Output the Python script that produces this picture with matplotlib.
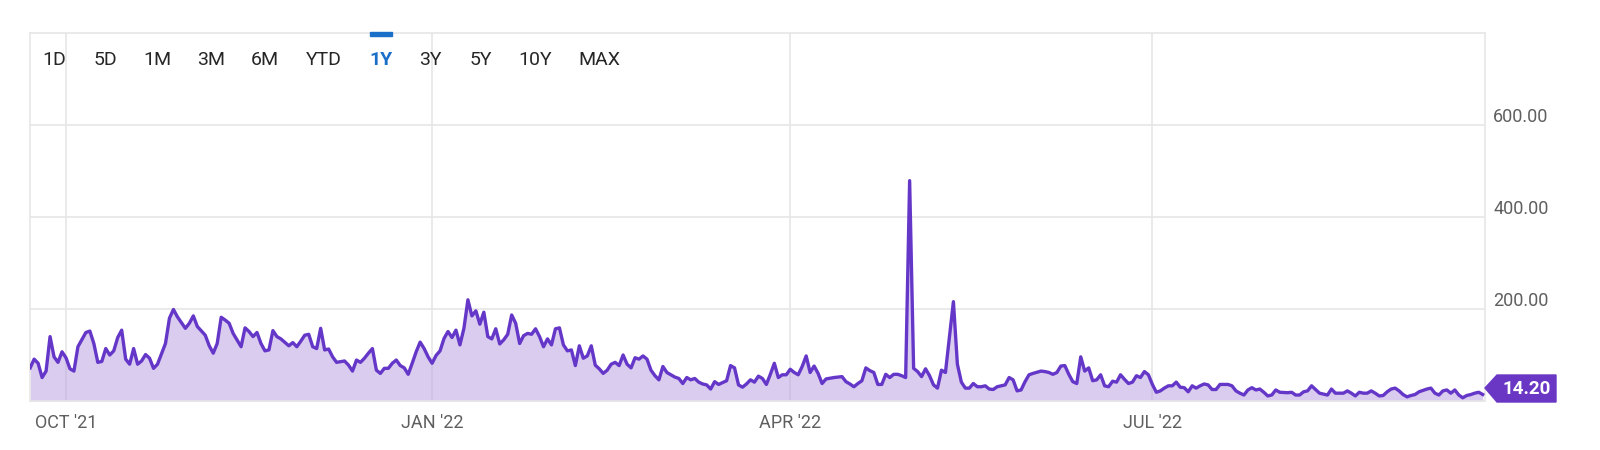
import matplotlib
matplotlib.use("Agg")
import matplotlib.pyplot as plt
from matplotlib.patches import Polygon, Rectangle
from matplotlib.transforms import ScaledTranslation
import pandas as pd

dates = [
    "2021-09-22", "2021-09-23", "2021-09-24", "2021-09-25", "2021-09-26", "2021-09-27", "2021-09-28", "2021-09-29", "2021-09-30",
    "2021-10-01", "2021-10-02", "2021-10-03", "2021-10-04", "2021-10-06", "2021-10-07", "2021-10-08", "2021-10-09", "2021-10-10",
    "2021-10-11", "2021-10-12", "2021-10-13", "2021-10-14", "2021-10-15", "2021-10-16", "2021-10-17", "2021-10-18", "2021-10-19",
    "2021-10-20", "2021-10-21", "2021-10-22", "2021-10-23", "2021-10-24", "2021-10-26", "2021-10-27", "2021-10-28", "2021-10-29",
    "2021-10-31",
    "2021-11-01", "2021-11-02", "2021-11-03", "2021-11-05", "2021-11-06", "2021-11-07", "2021-11-08", "2021-11-09", "2021-11-10",
    "2021-11-11", "2021-11-12", "2021-11-14", "2021-11-15", "2021-11-16", "2021-11-17", "2021-11-18", "2021-11-19", "2021-11-20",
    "2021-11-21", "2021-11-22", "2021-11-23", "2021-11-24", "2021-11-26", "2021-11-27", "2021-11-28", "2021-11-29", "2021-11-30",
    "2021-12-01", "2021-12-02", "2021-12-03", "2021-12-04", "2021-12-05", "2021-12-06", "2021-12-07", "2021-12-08", "2021-12-10",
    "2021-12-11", "2021-12-12", "2021-12-13", "2021-12-14", "2021-12-15", "2021-12-16", "2021-12-17", "2021-12-18", "2021-12-19",
    "2021-12-20", "2021-12-21", "2021-12-22", "2021-12-23", "2021-12-24", "2021-12-25", "2021-12-26", "2021-12-27", "2021-12-28",
    "2021-12-29", "2021-12-30", "2021-12-31",
    "2022-01-01", "2022-01-02", "2022-01-03", "2022-01-04", "2022-01-05", "2022-01-06", "2022-01-07", "2022-01-08", "2022-01-09",
    "2022-01-10", "2022-01-11", "2022-01-12", "2022-01-13", "2022-01-14", "2022-01-15", "2022-01-16", "2022-01-17", "2022-01-18",
    "2022-01-19", "2022-01-20", "2022-01-21", "2022-01-22", "2022-01-23", "2022-01-24", "2022-01-25", "2022-01-26", "2022-01-27",
    "2022-01-28", "2022-01-29", "2022-01-30", "2022-01-31",
    "2022-02-01", "2022-02-02", "2022-02-03", "2022-02-04", "2022-02-05", "2022-02-06", "2022-02-07", "2022-02-08", "2022-02-09",
    "2022-02-10", "2022-02-11", "2022-02-12", "2022-02-13", "2022-02-14", "2022-02-15", "2022-02-16", "2022-02-17", "2022-02-18",
    "2022-02-19", "2022-02-20", "2022-02-21", "2022-02-22", "2022-02-23", "2022-02-24", "2022-02-25", "2022-02-26", "2022-02-27",
    "2022-02-28",
    "2022-03-01", "2022-03-02", "2022-03-03", "2022-03-04", "2022-03-05", "2022-03-06", "2022-03-07", "2022-03-08", "2022-03-09",
    "2022-03-10", "2022-03-11", "2022-03-12", "2022-03-13", "2022-03-14", "2022-03-15", "2022-03-16", "2022-03-17", "2022-03-18",
    "2022-03-19", "2022-03-20", "2022-03-21", "2022-03-22", "2022-03-23", "2022-03-24", "2022-03-25", "2022-03-26", "2022-03-27",
    "2022-03-28", "2022-03-29", "2022-03-30", "2022-03-31",
    "2022-04-01", "2022-04-02", "2022-04-03", "2022-04-04", "2022-04-05", "2022-04-06", "2022-04-07", "2022-04-08", "2022-04-09",
    "2022-04-10", "2022-04-12", "2022-04-14", "2022-04-15", "2022-04-16", "2022-04-17", "2022-04-18", "2022-04-19", "2022-04-20",
    "2022-04-21", "2022-04-22", "2022-04-23", "2022-04-24", "2022-04-25", "2022-04-26", "2022-04-27", "2022-04-28", "2022-04-29",
    "2022-04-30",
    "2022-05-01", "2022-05-02", "2022-05-03", "2022-05-04", "2022-05-05", "2022-05-06", "2022-05-07", "2022-05-08", "2022-05-09",
    "2022-05-10", "2022-05-12", "2022-05-13", "2022-05-14", "2022-05-15", "2022-05-16", "2022-05-17", "2022-05-18", "2022-05-19",
    "2022-05-20", "2022-05-21", "2022-05-22", "2022-05-23", "2022-05-25", "2022-05-26", "2022-05-27", "2022-05-28", "2022-05-29",
    "2022-05-30", "2022-05-31",
    "2022-06-01", "2022-06-03", "2022-06-04", "2022-06-05", "2022-06-06", "2022-06-07", "2022-06-08", "2022-06-09", "2022-06-10",
    "2022-06-11", "2022-06-12", "2022-06-13", "2022-06-14", "2022-06-15", "2022-06-16", "2022-06-17", "2022-06-18", "2022-06-19",
    "2022-06-20", "2022-06-21", "2022-06-22", "2022-06-23", "2022-06-24", "2022-06-25", "2022-06-26", "2022-06-27", "2022-06-28",
    "2022-06-29", "2022-06-30",
    "2022-07-01", "2022-07-02", "2022-07-03", "2022-07-04", "2022-07-05", "2022-07-06", "2022-07-07", "2022-07-08", "2022-07-09",
    "2022-07-10", "2022-07-11", "2022-07-12", "2022-07-13", "2022-07-14", "2022-07-15", "2022-07-16", "2022-07-17", "2022-07-18",
    "2022-07-20", "2022-07-21", "2022-07-22", "2022-07-23", "2022-07-24", "2022-07-25", "2022-07-26", "2022-07-27", "2022-07-28",
    "2022-07-29", "2022-07-30", "2022-07-31",
    "2022-08-01", "2022-08-02", "2022-08-04", "2022-08-05", "2022-08-06", "2022-08-07", "2022-08-08", "2022-08-09", "2022-08-10",
    "2022-08-11", "2022-08-12", "2022-08-14", "2022-08-15", "2022-08-16", "2022-08-17", "2022-08-18", "2022-08-19", "2022-08-20",
    "2022-08-21", "2022-08-22", "2022-08-23", "2022-08-24", "2022-08-25", "2022-08-26", "2022-08-27", "2022-08-28", "2022-08-29",
    "2022-08-30", "2022-08-31",
    "2022-09-01", "2022-09-02", "2022-09-03", "2022-09-04", "2022-09-05", "2022-09-06", "2022-09-08", "2022-09-09", "2022-09-10",
    "2022-09-11", "2022-09-12", "2022-09-13", "2022-09-14", "2022-09-15", "2022-09-16", "2022-09-17", "2022-09-18", "2022-09-19",
    "2022-09-20", "2022-09-21", "2022-09-22",
]

prices = [
    72, 91, 82, 51, 65, 140, 96, 84, 107,
    94, 70, 65, 118, 149, 152, 125, 84, 86,
    114, 100, 109, 138, 154, 91, 80, 114, 80,
    87, 101, 93, 71, 80, 125, 180, 199, 183,
    158,
    169, 185, 162, 143, 120, 104, 125, 182, 176,
    169, 147, 118, 159, 151, 140, 149, 125, 109,
    111, 153, 140, 135, 120, 127, 118, 130, 143,
    145, 118, 114, 158, 111, 113, 96, 84, 87,
    78, 65, 89, 84, 93, 104, 114, 67, 60,
    71, 71, 82, 89, 77, 72, 58, 82, 107,
    128, 114, 96,
    82, 99, 109, 136, 151, 138, 154, 122, 158,
    220, 185, 196, 167, 193, 140, 135, 157, 124,
    133, 145, 187, 169, 125, 142, 147, 145, 157,
    140, 118, 135, 122,
    157, 159, 122, 109, 111, 77, 120, 93, 98,
    120, 78, 70, 60, 67, 80, 84, 77, 100,
    80, 72, 94, 91, 98, 91, 67, 55, 46,
    75,
    62, 57, 52, 49, 38, 51, 46, 49, 41,
    37, 35, 26, 42, 36, 40, 44, 77, 72,
    35, 30, 37, 46, 41, 54, 49, 36, 58,
    82, 51, 57, 57,
    69, 62, 57, 75, 98, 62, 76, 60, 38,
    48, 51, 53, 42, 37, 31, 38, 44, 72,
    66, 62, 36, 36, 58, 51, 58, 58, 55,
    51,
    479, 71, 64, 53, 70, 55, 35, 28, 67,
    62, 216, 80, 41, 28, 28, 38, 31, 31,
    33, 26, 25, 31, 35, 51, 46, 22, 24,
    42, 57,
    60, 65, 64, 62, 58, 62, 76, 77, 58,
    42, 38, 96, 65, 72, 44, 46, 57, 33,
    31, 43, 41, 57, 47, 38, 41, 55, 51,
    64, 57,
    36, 19, 22, 28, 33, 33, 41, 30, 29,
    20, 33, 28, 33, 37, 35, 25, 25, 36,
    36, 33, 22, 17, 13, 24, 29, 24, 26,
    19, 11, 13,
    24, 19, 18, 19, 13, 13, 20, 22, 33,
    25, 17, 13, 26, 17, 17, 17, 22, 17,
    11, 19, 17, 17, 22, 17, 11, 12, 20,
    26, 28,
    22, 14, 9, 12, 14, 20, 26, 28, 17,
    13, 22, 24, 17, 24, 13, 7, 12, 14,
    17, 19, 14.2,
]

tick_dates = ["2021-10-01", "2022-01-01", "2022-04-01", "2022-07-01"]
tick_labels = ["OCT '21", "JAN '22", "APR '22", "JUL '22"]
y_ticks = [200, 400, 600]
range_buttons = ["1D", "5D", "1M", "3M", "6M", "YTD", "1Y", "3Y", "5Y", "10Y", "MAX"]
selected_range = "1Y"

LINE = "#6537c8"
FILL = "#b59be1"
BADGE = "#6a36c4"
GRID = "#e6e6e6"
LABEL = "#5f5f5f"
BLUE = "#1a6fc9"

W, H = 1600, 450


def fx(px):
    return px / W


def fy(py):
    return 1 - py / H


plt.rcParams["font.family"] = ["Roboto", "DejaVu Sans"]

x = pd.to_datetime(dates)

fig = plt.figure(figsize=(16, 4.5), dpi=100)
ax = fig.add_axes([fx(30), fy(401), fx(1485) - fx(30), fy(33) - fy(401)])

ax.fill_between(x, prices, 0, color=FILL, alpha=0.5, lw=0, zorder=2)
ax.plot(x, prices, color=LINE, lw=2.4, zorder=3, solid_joinstyle="round")

ax.set_ylim(0, 800)
ax.set_xlim(x[0] - pd.Timedelta(hours=1), x[-1] + pd.Timedelta(hours=14))

ax.set_axisbelow(True)
ax.grid(True, color=GRID, lw=1.2)
for s in ax.spines.values():
    s.set_color(GRID)
    s.set_linewidth(1.2)

ax.set_xticks(pd.to_datetime(tick_dates))
ax.set_xticklabels(tick_labels)
ax.tick_params(axis="x", length=0, pad=9, labelsize=13, labelcolor=LABEL)

ax.yaxis.tick_right()
ax.set_yticks(y_ticks)
ax.set_yticklabels([f"{v:.2f}" for v in y_ticks])
ax.tick_params(axis="y", length=0, pad=6, labelsize=13, labelcolor=LABEL)
shift = ScaledTranslation(0, 0.1, fig.dpi_scale_trans)
for lab in ax.get_yticklabels():
    lab.set_transform(lab.get_transform() + shift)

# range selector across the top
button_x = [54, 105, 157, 211, 265, 324, 381, 430, 481, 535, 599]
for name, bx in zip(range_buttons, button_x):
    sel = name == selected_range
    fig.text(fx(bx), fy(60), name, ha="center", va="center", fontsize=14,
             color=BLUE if sel else "#262626", fontweight="bold" if sel else "normal")
    if sel:
        fig.patches.append(Rectangle((fx(bx - 11), fy(36)), fx(22), 4 / H,
                                     transform=fig.transFigure, color=BLUE, zorder=5))

# last price badge
badge = [(1485, 388), (1497, 375), (1556, 375), (1556, 402), (1497, 402)]
fig.patches.append(Polygon([(fx(a), fy(b)) for a, b in badge], closed=True,
                           transform=fig.transFigure, color=BADGE, zorder=5))
fig.text(fx(1527), fy(389), f"{prices[-1]:.2f}", ha="center", va="center",
         fontsize=13.5, fontweight="bold", color="white", zorder=6)

fig.savefig("out.png", dpi=100)
